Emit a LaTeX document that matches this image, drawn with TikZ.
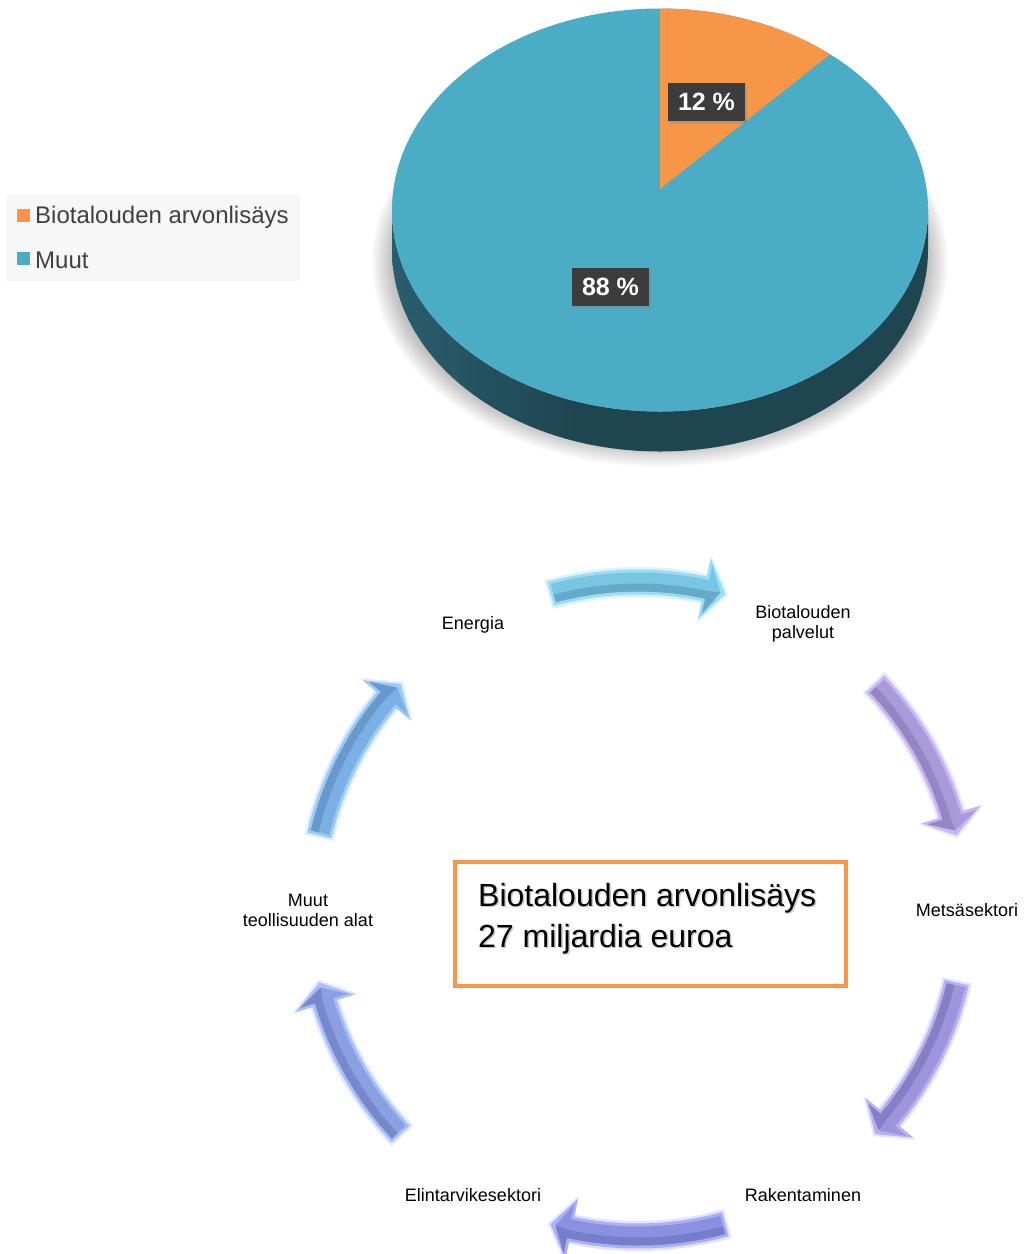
\documentclass[tikz,border=0pt]{standalone}
\usepackage{fontspec}
\setmainfont{Liberation Sans}
\usetikzlibrary{calc,shadows}

\definecolor{pieaqua}{HTML}{4BACC6}
\definecolor{pieorange}{HTML}{F79646}
\definecolor{sideA}{HTML}{3E889D}
\definecolor{sideB}{HTML}{2B6272}
\definecolor{sideC}{HTML}{1F4551}
\definecolor{txtgray}{HTML}{404040}
\definecolor{lblbox}{HTML}{3C3C3C}
\pgfdeclarehorizontalshading{pieside}{100bp}{color(0bp)=(sideA); color(22bp)=(sideB); color(42bp)=(sideC); color(100bp)=(sideC)}

% arrow colours: edge / face / dark
\definecolor{aAe}{HTML}{9ADCF4}\definecolor{aAf}{HTML}{78C6E4}\definecolor{aAd}{HTML}{66AACA}
\definecolor{aBe}{HTML}{C6B6F2}\definecolor{aBf}{HTML}{A99ADA}\definecolor{aBd}{HTML}{9486C4}
\definecolor{aCe}{HTML}{B8B0F2}\definecolor{aCf}{HTML}{9D94DC}\definecolor{aCd}{HTML}{877EC6}
\definecolor{aDe}{HTML}{A8B0F6}\definecolor{aDf}{HTML}{8A92E0}\definecolor{aDd}{HTML}{767ECA}
\definecolor{aEe}{HTML}{A8C0F8}\definecolor{aEf}{HTML}{8AA0E2}\definecolor{aEd}{HTML}{7888CC}
\definecolor{aFe}{HTML}{9CCCF6}\definecolor{aFf}{HTML}{7CB0E4}\definecolor{aFd}{HTML}{6898CC}

\newcommand\cycarrow[6]{%
  \pgfmathsetmacro\hbA{#2+3.8}%
  \pgfmathsetmacro\hbB{#2+3.3}%
  \pgfmathsetmacro\tA{#1-0.5}%
  \pgfmathsetmacro\tB{#2+0.9}%
  \pgfmathsetmacro\gA{#1+0.4}%
  \pgfmathsetmacro\gB{#2-0.5}%
  \pgfmathsetmacro\sA{327+#6*1.5}%
  \pgfmathsetmacro\sB{327+#6*9.5}%
  \pgfmathsetmacro\sC{327+#6*25}%
  % soft glow
  \fill[#3,opacity=0.35] ($(C)+(\gA:342)$) arc[start angle=\gA,end angle=\hbA,radius=342]
     -- ($(C)+(\hbA:361)$) -- ($(C)+(\gB:327)$) -- ($(C)+(\hbA:293)$)
     -- ($(C)+(\hbA:312)$) arc[start angle=\hbA,end angle=\gA,radius=312] -- cycle;
  % edge
  \fill[#3] ($(C)+(#1:339.5)$) arc[start angle=#1,end angle=\hbA,radius=339.5]
     -- ($(C)+(\hbA:358)$) -- ($(C)+(#2:327)$) -- ($(C)+(\hbA:296)$)
     -- ($(C)+(\hbA:314.5)$) arc[start angle=\hbA,end angle=#1,radius=314.5] -- cycle;
  % face
  \fill[#4] ($(C)+(\tA:336.5)$) arc[start angle=\tA,end angle=\hbB,radius=336.5]
     -- ($(C)+(\hbB:352)$) -- ($(C)+(\tB:327)$) -- ($(C)+(\hbB:302)$)
     -- ($(C)+(\hbB:317.5)$) arc[start angle=\hbB,end angle=\tA,radius=317.5] -- cycle;
  % darker strip
  \fill[#5] ($(C)+(\tA:\sA)$) arc[start angle=\tA,end angle=\hbB,radius=\sA]
     -- ($(C)+(\hbB:\sB)$) arc[start angle=\hbB,end angle=\tA,radius=\sB] -- cycle;
  \fill[#5] ($(C)+(\hbB:\sA)$) -- ($(C)+(\hbB:\sC)$) -- ($(C)+(\tB:327)$) -- cycle;
}

\begin{document}
\begin{tikzpicture}[x=1pt,y=1pt,
  lbl/.style={fill=lblbox,text=white,font=\bfseries\fontsize{25}{25}\selectfont,
    minimum width=77,minimum height=38,inner sep=0,
    drop shadow={shadow xshift=2pt,shadow yshift=-3pt,opacity=0.35}},
  legtxt/.style={anchor=west,text=txtgray,font=\fontsize{24}{27}\selectfont,inner sep=0},
  cyctxt/.style={align=center,font=\fontsize{18}{20}\selectfont,inner sep=0},
  boxtxt/.style={anchor=west,font=\fontsize{32}{36}\selectfont,inner sep=0}]
\useasboundingbox (0,0) rectangle (1024,-1254);
\fill[white] (0,0) rectangle (1024,-1254);

% ---------- pie shadow ----------
\foreach \k in {0,...,11}
  \fill[black,opacity=0.022] (660,-262) ellipse[x radius=288-2*\k, y radius=205-2*\k];

% ---------- pie side ----------
\shade[shading=pieside] (392,-210) arc[start angle=180,end angle=360,x radius=268,y radius=201.5]
  -- (928,-250) arc[start angle=360,end angle=180,x radius=268,y radius=201.5] -- cycle;

% ---------- pie top ----------
\fill[pieaqua] (660,-210) ellipse[x radius=268,y radius=201.5];
\fill[pieorange] (660,-189) -- (660,-8.5) arc[start angle=90,end angle=50.6,x radius=268,y radius=201.5] -- cycle;

\node[lbl] (p12) at (706.5,-102) {12 \%};
\node[lbl] (p88) at (610.5,-286.5) {88 \%};

% ---------- legend ----------
\fill[black!3] (6,-195) rectangle (300,-281);
\fill[pieorange] (17,-209) rectangle (30,-222);
\fill[pieaqua] (17,-252) rectangle (30,-265);
\node[legtxt] (leg1) at (35,-217) {Biotalouden arvonlisäys};
\node[legtxt] (leg2) at (35,-260) {Muut};

% ---------- cycle ----------
\coordinate (C) at (638,-909);

\cycarrow{105.5}{74.5}{aAe}{aAf}{aAd}{-1}
\cycarrow{43.5}{13}{aBe}{aBf}{aBd}{-1}
\cycarrow{-13}{-43.5}{aCe}{aCf}{aCd}{-1}
\cycarrow{-74.5}{-105.5}{aDe}{aDf}{aDd}{1}
\cycarrow{-136.5}{-167}{aEe}{aEf}{aEd}{1}
\cycarrow{167}{136.5}{aFe}{aFf}{aFd}{1}

\node[cyctxt] (energia) at (473,-625) {Energia};
\node[cyctxt] (palvelut) at (803,-624) {Biotalouden\\palvelut};
\node[cyctxt] (metsa) at (967,-910) {Metsäsektori};
\node[cyctxt] (rakent) at (803,-1195) {Rakentaminen};
\node[cyctxt] (elint) at (473,-1195) {Elintarvikesektori};
\node[cyctxt] (muut) at (308,-910) {Muut\\teollisuuden alat};

% ---------- centre box ----------
\node[draw=pieorange,line width=3.5,minimum width=391,minimum height=124,inner sep=0] (box) at (650.5,-924) {};
\node[boxtxt,text=black!22] at (479.5,-899.5) {Biotalouden arvonlisäys};
\node[boxtxt,text=black!22] at (479.5,-940.5) {27 miljardia euroa};
\node[boxtxt] (boxl1) at (478,-898) {Biotalouden arvonlisäys};
\node[boxtxt] (boxl2) at (478,-939) {27 miljardia euroa};
\end{tikzpicture}
\end{document}
